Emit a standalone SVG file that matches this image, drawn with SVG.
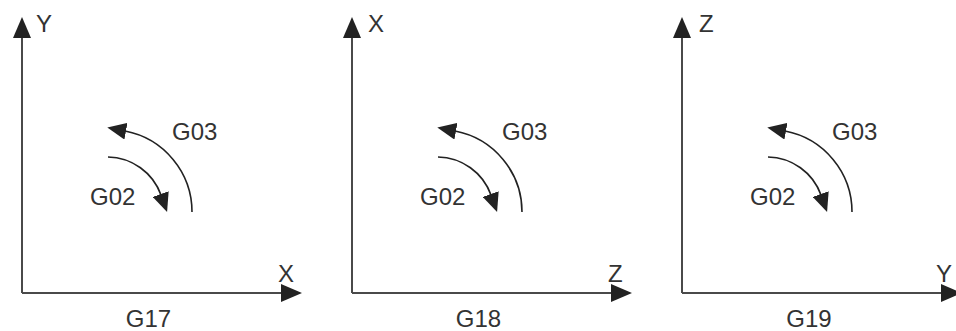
<svg xmlns="http://www.w3.org/2000/svg" width="956" height="331" viewBox="0 0 956 331">
<style>
.axis{stroke:#4a4a4a;stroke-width:2;fill:none}
.arc{stroke:#222;stroke-width:1.6;fill:none}
text{font-family:"Liberation Sans",Arial,sans-serif;font-size:24px;fill:#333}
.mid{text-anchor:middle}
</style>
<defs>
<marker id="axhead" markerUnits="userSpaceOnUse" viewBox="0 0 21 18" markerWidth="21" markerHeight="18" refX="18" refY="9" orient="auto">
<path d="M0,0 L21,9 L0,18 z" fill="#222"/>
</marker>
<marker id="archead" markerUnits="userSpaceOnUse" viewBox="0 0 19 17" markerWidth="19" markerHeight="17" refX="1" refY="8.5" orient="auto">
<path d="M0,0 L19,8.5 L0,17 z" fill="#222"/>
</marker>
</defs>
<g id="connectors">
<g transform="translate(0,0)">
<path class="axis" d="M22,293 L22,20" marker-end="url(#axhead)"/>
<path class="axis" d="M22,293 L299,293" marker-end="url(#axhead)"/>
<path class="arc" d="M192,212 A82.5,82.5 0 0 0 125,131" marker-end="url(#archead)"/>
<path class="arc" d="M108,157 A57.4,57.4 0 0 1 161,195" marker-end="url(#archead)"/>
</g>
<g transform="translate(330,0)">
<path class="axis" d="M22,293 L22,20" marker-end="url(#axhead)"/>
<path class="axis" d="M22,293 L299,293" marker-end="url(#axhead)"/>
<path class="arc" d="M192,212 A82.5,82.5 0 0 0 125,131" marker-end="url(#archead)"/>
<path class="arc" d="M108,157 A57.4,57.4 0 0 1 161,195" marker-end="url(#archead)"/>
</g>
<g transform="translate(660,0)">
<path class="axis" d="M22,293 L22,20" marker-end="url(#axhead)"/>
<path class="axis" d="M22,293 L299,293" marker-end="url(#axhead)"/>
<path class="arc" d="M192,212 A82.5,82.5 0 0 0 125,131" marker-end="url(#archead)"/>
<path class="arc" d="M108,157 A57.4,57.4 0 0 1 161,195" marker-end="url(#archead)"/>
</g>
</g>
<g id="panel-g17">
<text x="36" y="32">Y</text>
<text x="278" y="282">X</text>
<text x="172" y="140">G03</text>
<text x="90" y="205">G02</text>
<text class="mid" x="148.5" y="327">G17</text>
</g>
<g id="panel-g18" transform="translate(330,0)">
<text x="38" y="32">X</text>
<text x="278" y="282">Z</text>
<text x="172" y="140">G03</text>
<text x="90" y="205">G02</text>
<text class="mid" x="148.5" y="327">G18</text>
</g>
<g id="panel-g19" transform="translate(660,0)">
<text x="39" y="32">Z</text>
<text x="276" y="282">Y</text>
<text x="172" y="140">G03</text>
<text x="90" y="205">G02</text>
<text class="mid" x="149" y="327">G19</text>
</g>
</svg>
